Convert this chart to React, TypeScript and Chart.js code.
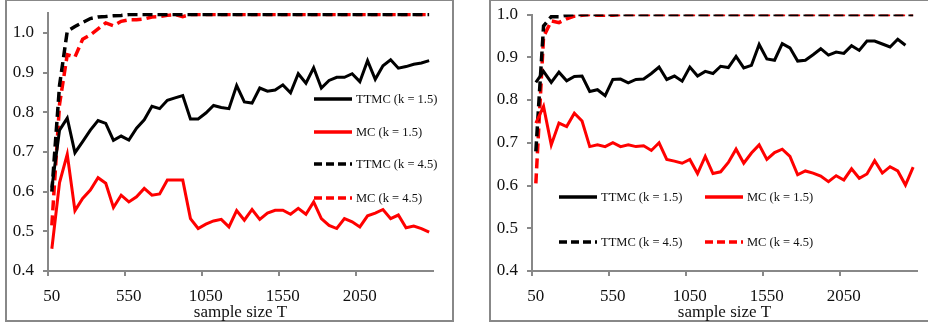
import React, { useEffect, useRef } from "react";
import { Chart, registerables } from "chart.js";

Chart.register(...registerables);

// ---------- data ----------
const SAMPLE_SIZES = [
  "50", "100", "150", "200", "250", "300", "350", "400", "450", "500",
  "550", "600", "650", "700", "750", "800", "850", "900", "950", "1000",
  "1050", "1100", "1150", "1200", "1250", "1300", "1350", "1400", "1450", "1500",
  "1550", "1600", "1650", "1700", "1750", "1800", "1850", "1900", "1950", "2000",
  "2050", "2100", "2150", "2200", "2250", "2300", "2350", "2400", "2450", "2500",
];
const X_TICK_LABELS = ["50", "550", "1050", "1550", "2050"];
const X_TITLE = "sample size T";
const LEGEND_LABELS = ["TTMC (k = 1.5)", "MC (k = 1.5)", "TTMC (k = 4.5)", "MC (k = 4.5)"];

// left panel
const LEFT_TTMC_15 = [
  0.61, 0.755, 0.785, 0.698, 0.726, 0.755, 0.779, 0.772, 0.729, 0.740,
  0.730, 0.760, 0.781, 0.815, 0.809, 0.830, 0.836, 0.842, 0.783, 0.783,
  0.798, 0.817, 0.812, 0.809, 0.867, 0.826, 0.823, 0.861, 0.853, 0.856,
  0.869, 0.849, 0.897, 0.873, 0.912, 0.861, 0.880, 0.888, 0.888, 0.897,
  0.877, 0.930, 0.883, 0.917, 0.932, 0.911, 0.915, 0.921, 0.924, 0.930,
];
const LEFT_MC_15 = [
  0.456, 0.623, 0.694, 0.552, 0.583, 0.604, 0.635, 0.621, 0.560, 0.591,
  0.574, 0.587, 0.608, 0.591, 0.594, 0.629, 0.629, 0.629, 0.532, 0.507,
  0.518, 0.526, 0.530, 0.511, 0.552, 0.528, 0.555, 0.530, 0.546, 0.553,
  0.553, 0.543, 0.558, 0.543, 0.574, 0.532, 0.515, 0.507, 0.532, 0.524,
  0.511, 0.539, 0.546, 0.555, 0.532, 0.541, 0.509, 0.513, 0.507, 0.498,
];
const LEFT_TTMC_45 = [
  0.60, 0.868, 1.004, 1.016, 1.026, 1.036, 1.040, 1.041, 1.043, 1.044,
  1.046, 1.046, 1.046, 1.046, 1.046, 1.046, 1.046, 1.046, 1.046, 1.046,
  1.046, 1.046, 1.046, 1.046, 1.046, 1.046, 1.046, 1.046, 1.046, 1.046,
  1.046, 1.046, 1.046, 1.046, 1.046, 1.046, 1.046, 1.046, 1.046, 1.046,
  1.046, 1.046, 1.046, 1.046, 1.046, 1.046, 1.046, 1.046, 1.046, 1.046,
];
const LEFT_MC_45 = [
  0.515, 0.82, 0.945, 0.939, 0.984, 0.995, 1.010, 1.025, 1.018, 1.029,
  1.033, 1.033, 1.035, 1.040, 1.041, 1.044, 1.046, 1.041, 1.046, 1.046,
  1.046, 1.046, 1.046, 1.046, 1.046, 1.046, 1.046, 1.046, 1.046, 1.046,
  1.046, 1.046, 1.046, 1.046, 1.046, 1.046, 1.046, 1.046, 1.046, 1.046,
  1.046, 1.046, 1.046, 1.046, 1.046, 1.046, 1.046, 1.046, 1.046, 1.046,
];

// right panel
const RIGHT_TTMC_15 = [
  0.841, 0.867, 0.841, 0.865, 0.845, 0.855, 0.856, 0.820, 0.824, 0.810,
  0.848, 0.849, 0.840, 0.848, 0.849, 0.862, 0.877, 0.848, 0.856, 0.844,
  0.877, 0.856, 0.867, 0.862, 0.879, 0.876, 0.902, 0.875, 0.881, 0.930,
  0.896, 0.893, 0.932, 0.922, 0.891, 0.893, 0.906, 0.920, 0.905, 0.912,
  0.909, 0.927, 0.916, 0.938, 0.938, 0.931, 0.924, 0.942, 0.928, null,
];
const RIGHT_MC_15 = [
  0.746, 0.785, 0.695, 0.746, 0.738, 0.769, 0.751, 0.691, 0.695, 0.691,
  0.700, 0.691, 0.695, 0.691, 0.693, 0.682, 0.700, 0.661, 0.657, 0.652,
  0.661, 0.628, 0.668, 0.628, 0.632, 0.654, 0.685, 0.652, 0.676, 0.695,
  0.661, 0.677, 0.685, 0.668, 0.625, 0.634, 0.629, 0.622, 0.609, 0.623,
  0.613, 0.639, 0.617, 0.627, 0.658, 0.629, 0.644, 0.634, 0.601, 0.643,
];
const RIGHT_TTMC_45 = [
  0.68, 0.973, 0.995, 0.995, 0.998, 1.0, 1.0, 1.0, 1.0, 1.0,
  1.0, 1.0, 1.0, 1.0, 1.0, 1.0, 1.0, 1.0, 1.0, 1.0,
  1.0, 1.0, 1.0, 1.0, 1.0, 1.0, 1.0, 1.0, 1.0, 1.0,
  1.0, 1.0, 1.0, 1.0, 1.0, 1.0, 1.0, 1.0, 1.0, 1.0,
  1.0, 1.0, 1.0, 1.0, 1.0, 1.0, 1.0, 1.0, 1.0, 1.0,
];
const RIGHT_MC_45 = [
  0.605, 0.948, 0.985, 0.981, 0.990, 0.996, 0.998, 1.0, 0.998, 0.998,
  0.998, 1.0, 1.0, 1.0, 1.0, 1.0, 1.0, 1.0, 1.0, 1.0,
  1.0, 1.0, 1.0, 1.0, 1.0, 1.0, 1.0, 1.0, 1.0, 1.0,
  1.0, 1.0, 1.0, 1.0, 1.0, 1.0, 1.0, 1.0, 1.0, 1.0,
  1.0, 1.0, 1.0, 1.0, 1.0, 1.0, 1.0, 1.0, 1.0, 1.0,
];

// ---------- styles ----------
const FONT_FAMILY = '"Liberation Serif", "Times New Roman", serif';
const AXIS_GRAY = "#888888";
const TEXT_COLOR = "#111111";
const RED = "#ff0000";
const BLACK = "#000000";
const DASH = [10, 5];

type LegendPos = { dataset: number; x: number; y: number };

function makeLegendPlugin(items: LegendPos[]) {
  return {
    id: "placedLegend",
    afterDraw(chart: any) {
      const ctx = chart.ctx as CanvasRenderingContext2D;
      ctx.save();
      for (const it of items) {
        const ds = chart.data.datasets[it.dataset];
        ctx.strokeStyle = ds.borderColor;
        ctx.lineWidth = 3.5;
        ctx.lineCap = "butt";
        ctx.setLineDash(ds.borderDash && ds.borderDash.length ? [8, 4] : []);
        ctx.beginPath();
        ctx.moveTo(it.x, it.y);
        ctx.lineTo(it.x + 38, it.y);
        ctx.stroke();
        ctx.setLineDash([]);
        ctx.fillStyle = TEXT_COLOR;
        ctx.font = `12.5px ${FONT_FAMILY}`;
        ctx.textBaseline = "middle";
        ctx.textAlign = "left";
        ctx.fillText(ds.label, it.x + 42, it.y + 0.5);
      }
      ctx.restore();
    },
  };
}

function buildDatasets(a: (number | null)[], b: (number | null)[], c: (number | null)[], d: (number | null)[]) {
  const base = { pointRadius: 0, pointHoverRadius: 0, tension: 0, fill: false, spanGaps: false };
  return [
    { ...base, label: LEGEND_LABELS[0], data: a, borderColor: BLACK, borderWidth: 3, borderDash: [] as number[] },
    { ...base, label: LEGEND_LABELS[1], data: b, borderColor: RED, borderWidth: 3, borderDash: [] as number[] },
    { ...base, label: LEGEND_LABELS[2], data: c, borderColor: BLACK, borderWidth: 3.5, borderDash: DASH },
    { ...base, label: LEGEND_LABELS[3], data: d, borderColor: RED, borderWidth: 3.5, borderDash: DASH },
  ];
}

type PanelProps = {
  left: number;
  width: number;
  top: number;
  yMax: number;
  series: (number | null)[][];
  legend: LegendPos[];
};

function Panel({ left, width, top, yMax, series, legend }: PanelProps) {
  const ref = useRef<HTMLCanvasElement | null>(null);
  useEffect(() => {
    if (!ref.current) return;
    const tickFont = { family: FONT_FAMILY, size: 17 };
    const chart = new Chart(ref.current, {
      type: "line",
      data: {
        labels: SAMPLE_SIZES,
        datasets: buildDatasets(series[0], series[1], series[2], series[3]) as any,
      },
      options: {
        animation: false,
        responsive: false,
        maintainAspectRatio: false,
        devicePixelRatio: 1,
        layout: { autoPadding: false, padding: { left: 0, top, right: width - 433, bottom: 0 } },
        plugins: { legend: { display: false }, tooltip: { enabled: false } },
        scales: {
          x: {
            type: "category",
            offset: true,
            afterFit: (s: any) => {
              s.height = 59;
            },
            grid: {
              offset: true,
              drawOnChartArea: false,
              drawTicks: true,
              tickLength: 5,
              lineWidth: 2,
              color: (ctx: any) => (ctx.index % 10 === 0 ? AXIS_GRAY : "rgba(0,0,0,0)"),
            },
            border: { display: true, color: AXIS_GRAY, width: 2 },
            ticks: {
              autoSkip: false,
              maxRotation: 0,
              minRotation: 0,
              padding: 10,
              color: TEXT_COLOR,
              font: tickFont,
              callback: function (this: any, value: any) {
                const lab = this.getLabelForValue(value);
                return X_TICK_LABELS.includes(lab) ? lab : "";
              },
            },
            title: {
              display: true,
              text: X_TITLE,
              color: TEXT_COLOR,
              font: tickFont,
              padding: { top: 0, bottom: 7 },
            },
          },
          y: {
            type: "linear",
            min: 0.4,
            max: yMax,
            afterFit: (s: any) => {
              s.width = 48;
            },
            afterBuildTicks: (s: any) => {
              s.ticks = s.ticks.filter((t: any) => Math.abs(t.value * 10 - Math.round(t.value * 10)) < 1e-6);
            },
            grid: {
              drawOnChartArea: false,
              drawTicks: true,
              tickLength: 5,
              lineWidth: 2,
              color: AXIS_GRAY,
            },
            border: { display: true, color: AXIS_GRAY, width: 2 },
            ticks: {
              stepSize: 0.1,
              padding: 9,
              color: TEXT_COLOR,
              font: { family: FONT_FAMILY, size: 17, lineHeight: 0.3 },
              callback: (v: any) => Number(v).toFixed(1),
            },
          },
        },
      },
      plugins: [makeLegendPlugin(legend)],
    });
    return () => chart.destroy();
  }, []);
  return (
    <canvas
      ref={ref}
      width={width}
      height={330}
      style={{ position: "absolute", left, top: 0, width, height: 330 }}
    />
  );
}

export default function App() {
  return (
    <div
      style={{
        position: "absolute",
        left: 0,
        top: 0,
        width: 928,
        height: 330,
        overflow: "hidden",
        background: "#ffffff",
      }}
    >
      <div
        style={{
          position: "absolute",
          left: 5,
          top: -1,
          width: 449,
          height: 323,
          boxSizing: "border-box",
          border: `2px solid ${AXIS_GRAY}`,
        }}
      />
      <div
        style={{
          position: "absolute",
          left: 489,
          top: -1,
          width: 460,
          height: 323,
          boxSizing: "border-box",
          border: `2px solid ${AXIS_GRAY}`,
        }}
      />
      <Panel
        left={0}
        width={460}
        top={13}
        yMax={1.05}
        series={[LEFT_TTMC_15, LEFT_MC_15, LEFT_TTMC_45, LEFT_MC_45]}
        legend={[
          { dataset: 0, x: 314, y: 99 },
          { dataset: 1, x: 314, y: 132 },
          { dataset: 2, x: 314, y: 164 },
          { dataset: 3, x: 314, y: 198 },
        ]}
      />
      <Panel
        left={484}
        width={444}
        top={14.5}
        yMax={1.0}
        series={[RIGHT_TTMC_15, RIGHT_MC_15, RIGHT_TTMC_45, RIGHT_MC_45]}
        legend={[
          { dataset: 0, x: 75, y: 197 },
          { dataset: 1, x: 221, y: 197 },
          { dataset: 2, x: 75, y: 242 },
          { dataset: 3, x: 221, y: 242 },
        ]}
      />
    </div>
  );
}
